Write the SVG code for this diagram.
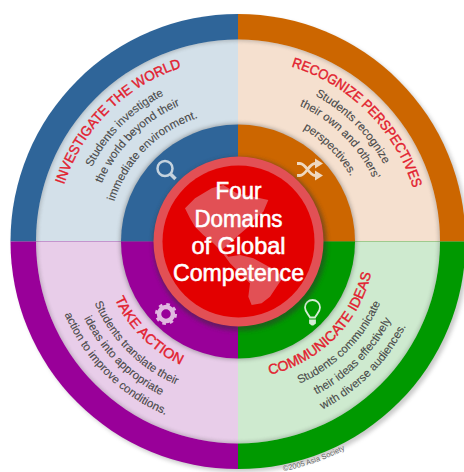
<svg xmlns="http://www.w3.org/2000/svg" width="464" height="472" viewBox="0 0 464 472">
<style>
.t{font-family:"Liberation Sans",Arial,sans-serif;font-size:14px;fill:#e2202e;text-anchor:middle;stroke:#e2202e;stroke-width:.4}
.b{font-family:"Liberation Sans",Arial,sans-serif;font-size:11.5px;fill:#4a4a4a;stroke:#4a4a4a;stroke-width:.12;text-anchor:middle}
.c{font-family:"Liberation Sans",Arial,sans-serif;font-size:24px;fill:#fff;stroke:#fff;stroke-width:.6;text-anchor:middle}
.cr{font-family:"Liberation Sans",Arial,sans-serif;font-size:7.5px;fill:#666}
</style>
<defs>
<filter id="s" x="-20%" y="-20%" width="140%" height="140%"><feGaussianBlur stdDeviation="2"/></filter>
<clipPath id="inPanel"><circle cx="238" cy="241.5" r="202"/></clipPath>
<path id="tl183" d="M55 241.5A183 183 0 0 1 238 58.5"/>
<path id="tl164" d="M74 241.5A164 164 0 0 1 238 77.5"/>
<path id="tl148" d="M90 241.5A148 148 0 0 1 238 93.5"/>
<path id="tl130" d="M108 241.5A130 130 0 0 1 238 111.5"/>
<path id="tr183" d="M238 58.5A183 183 0 0 1 421 241.5"/>
<path id="tr165" d="M238 76.5A165 165 0 0 1 403 241.5"/>
<path id="tr149" d="M238 92.5A149 149 0 0 1 387 241.5"/>
<path id="tr130" d="M238 111.5A130 130 0 0 1 368 241.5"/>
<path id="bl136" d="M102 241.5A136 136 0 0 0 238 377.5"/>
<path id="bl156" d="M82 241.5A156 156 0 0 0 238 397.5"/>
<path id="bl172" d="M66 241.5A172 172 0 0 0 238 413.5"/>
<path id="bl188" d="M50 241.5A188 188 0 0 0 238 429.5"/>
<path id="br137" d="M238 378.5A137 137 0 0 0 375 241.5"/>
<path id="br155" d="M238 396.5A155 155 0 0 0 393 241.5"/>
<path id="br172" d="M238 413.5A172 172 0 0 0 410 241.5"/>
<path id="br188" d="M238 429.5A188 188 0 0 0 426 241.5"/>
<path id="cr" d="M238 475.5A234 234 0 0 0 472 241.5"/>
</defs>
<rect width="464" height="472" fill="#fff"/>
<circle cx="241" cy="244.5" r="227.5" fill="#666" opacity=".35" filter="url(#s)"/>
<g id="investigate-the-world">
<path d="M238 241.5H10.5A227.5 227.5 0 0 1 238 14Z" fill="#2f6599"/>
<path d="M238 241.5H36A202 202 0 0 1 238 39.500Z" fill="#d3e0e9"/>
</g>
<g id="recognize-perspectives">
<path d="M238 241.5V14A227.5 227.5 0 0 1 465.500 241.5Z" fill="#cc6600"/>
<path d="M238 241.5V39.500A202 202 0 0 1 440 241.5Z" fill="#f5e0cf"/>
</g>
<g id="take-action">
<path d="M238 241.5H10.5A227.5 227.5 0 0 0 238 469Z" fill="#990099"/>
<path d="M238 241.5H36A202 202 0 0 0 238 443.500Z" fill="#e8cde9"/>
</g>
<g id="communicate-ideas">
<path d="M238 241.5V469A227.5 227.5 0 0 0 465.500 241.5Z" fill="#009900"/>
<path d="M238 241.5H440A202 202 0 0 1 238 443.500Z" fill="#ceeacf"/>
</g>
<g clip-path="url(#inPanel)"><circle cx="238" cy="241.5" r="203" fill="none" stroke="#555" stroke-width="3" opacity=".45" filter="url(#s)"/></g>
<circle cx="238" cy="241.5" r="118" fill="#555" opacity=".45" filter="url(#s)"/>
<g id="inner-ring">
<path d="M238 241.5H121A117 117 0 0 1 238 124.500Z" fill="#2f6599"/>
<path d="M238 241.5V124.500A117 117 0 0 1 355 241.5Z" fill="#cc6600"/>
<path d="M238 241.5H121A117 117 0 0 0 238 358.500Z" fill="#990099"/>
<path d="M238 241.500V358.500A117 117 0 0 0 355 241.5Z" fill="#009900"/>
</g>
<g id="labels">
<text class="t"><textPath href="#tl183" startOffset="50%" textLength="172" lengthAdjust="spacingAndGlyphs">INVESTIGATE THE WORLD</textPath></text>
<text class="b"><textPath href="#tl164" startOffset="50%">Students investigate</textPath></text>
<text class="b"><textPath href="#tl148" startOffset="50%">the world beyond their</textPath></text>
<text class="b"><textPath href="#tl130" startOffset="50%">immediate environment.</textPath></text>
<text class="t"><textPath href="#tr183" startOffset="50%" textLength="179" lengthAdjust="spacingAndGlyphs">RECOGNIZE PERSPECTIVES</textPath></text>
<text class="b"><textPath href="#tr165" startOffset="50%">Students recognize</textPath></text>
<text class="b"><textPath href="#tr149" startOffset="50%">their own and others’</textPath></text>
<text class="b"><textPath href="#tr130" startOffset="50%">perspectives.</textPath></text>
<text class="t"><textPath href="#bl136" startOffset="50%" textLength="95" lengthAdjust="spacingAndGlyphs">TAKE ACTION</textPath></text>
<text class="b"><textPath href="#bl156" startOffset="50%">Students translate their</textPath></text>
<text class="b"><textPath href="#bl172" startOffset="50%">ideas into appropriate</textPath></text>
<text class="b"><textPath href="#bl188" startOffset="50%">action to improve conditions.</textPath></text>
<text class="t"><textPath href="#br137" startOffset="50%" textLength="151" lengthAdjust="spacingAndGlyphs">COMMUNICATE IDEAS</textPath></text>
<text class="b"><textPath href="#br155" startOffset="50%">Students communicate</textPath></text>
<text class="b"><textPath href="#br172" startOffset="50%">their ideas effectively</textPath></text>
<text class="b"><textPath href="#br188" startOffset="50%">with diverse audiences.</textPath></text>
<text class="cr"><textPath href="#cr" startOffset="12.500%">©2005 Asia Society</textPath></text>
</g>
<g id="icons">
<g fill="none" stroke="#c5d3de" stroke-width="2.500"><circle cx="165" cy="168.500" r="7.500"/><path d="M170.500 174L175.500 179" stroke-width="3.500"/></g>
<g fill="none" stroke="#efd8bf" stroke-width="2.800"><path d="M297 163.500h3c6 0 9 12 15 12h2M297 175.500h3c6 0 9-12 15-12h2"/><path d="M315 158.500l8 5-8 5ZM315 170.500l8 5-8 5Z" fill="#efd8bf" stroke="none"/></g>
<g><circle cx="166" cy="314" r="7" fill="none" stroke="#e0b8e0" stroke-width="4.500"/><circle cx="166" cy="314" r="9.500" fill="none" stroke="#e0b8e0" stroke-width="3" stroke-dasharray="3.500 3.960"/></g>
<g fill="none" stroke="#d4ecd4" stroke-width="1.800"><path d="M310 317.500c-1-3-5-5-5-10a7.500 7.500 0 0 1 15 0c0 5-4 7-5 10Z"/><path d="M310 320.500h5v2.500l-2 1.500h-1l-2-1.500Z" fill="#d4ecd4"/></g>
</g>
<circle cx="240" cy="244" r="87" fill="#333" opacity=".5" filter="url(#s)"/>
<g id="center">
<circle cx="238.500" cy="241.500" r="85" fill="#e25055"/>
<circle cx="238.500" cy="241.500" r="76" fill="#e30000"/>
<path transform="translate(140 140) scale(.3333)" fill="#e25055" d="M135 205L165 175L215 145L250 135L290 160L340 170L385 180L370 215L340 240L320 265L290 290L270 310L245 330L265 350L300 345L340 355L395 385L430 410L410 440L390 470L365 490L335 495L325 470L330 430L300 400L270 370L245 335L220 310L190 285L165 260L150 235Z"/>
<text class="c" x="238.500" y="199" textLength="46" lengthAdjust="spacingAndGlyphs">Four</text>
<text class="c" x="238.500" y="227" textLength="88" lengthAdjust="spacingAndGlyphs">Domains</text>
<text class="c" x="238.500" y="254" textLength="94" lengthAdjust="spacingAndGlyphs">of Global</text>
<text class="c" x="238.500" y="281" textLength="131" lengthAdjust="spacingAndGlyphs">Competence</text>
</g>
</svg>
